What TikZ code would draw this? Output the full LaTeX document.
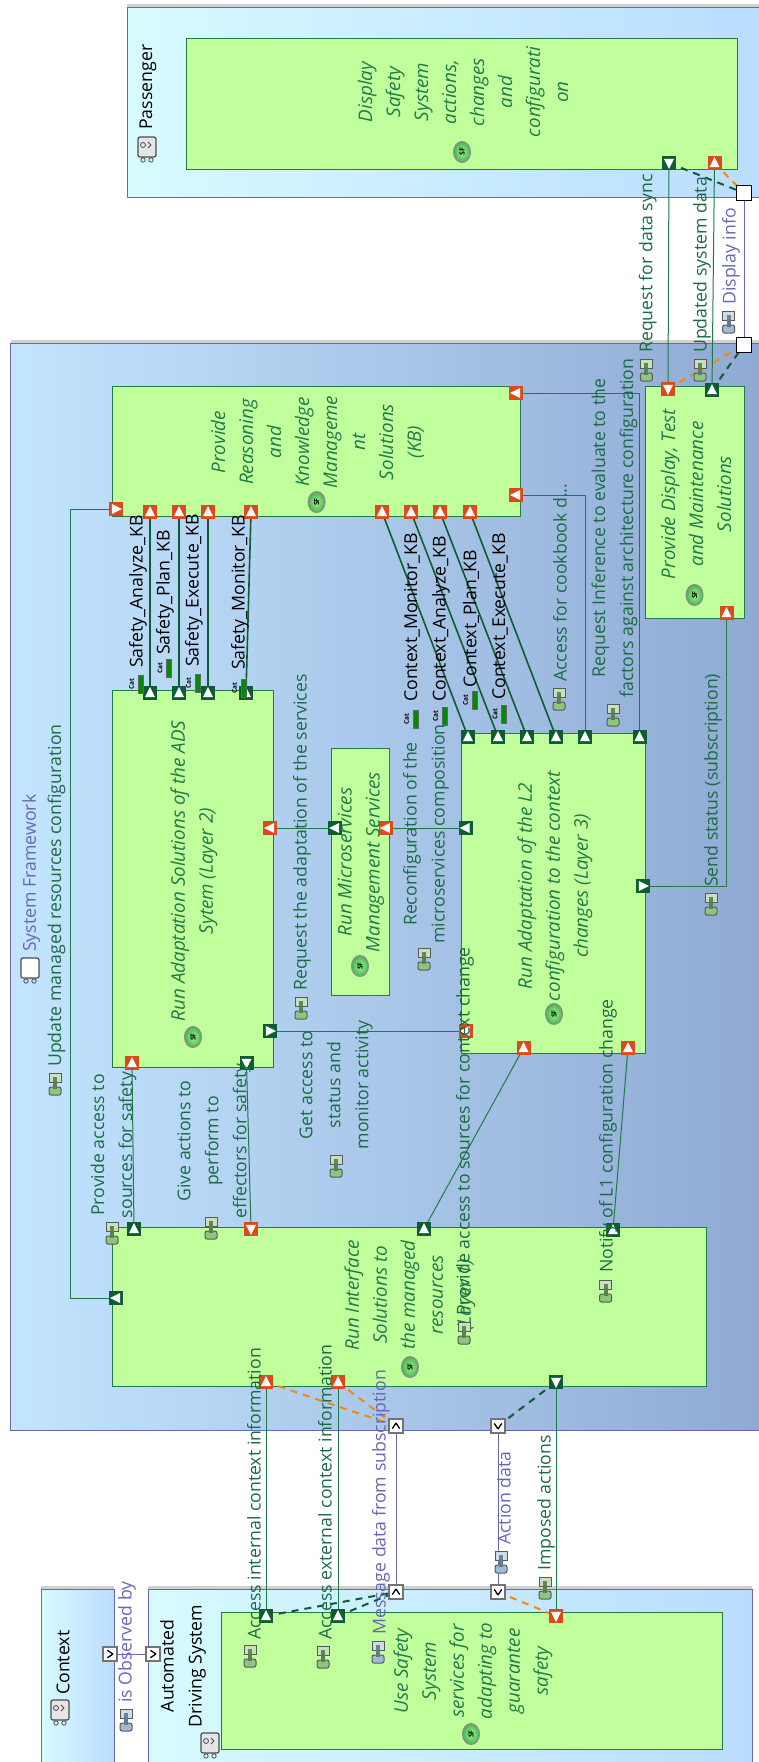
\documentclass[tikz,border=0pt]{standalone}
\usepackage{fontspec}
\setmainfont{Open Sans}
\usetikzlibrary{shapes, arrows.meta, positioning, calc}
\pgfdeclarelayer{background}
\pgfdeclarelayer{middle}
\pgfsetlayers{background,middle,main}
\definecolor{fnfill}{HTML}{C1FF9C}
\definecolor{fnline}{HTML}{1F7A45}
\definecolor{exgreen}{HTML}{1B6B45}
\definecolor{portred}{HTML}{DB4A1A}
\definecolor{portgreen}{HTML}{0E5C33}
\definecolor{boxline}{HTML}{6767B5}
\definecolor{dashorange}{HTML}{EE8A10}
\definecolor{skyend}{HTML}{BADDFF}
\definecolor{paleleft}{HTML}{D7FBFF}
\definecolor{sysleft}{HTML}{C3E5FF}
\definecolor{sysright}{HTML}{8FA9D3}
\definecolor{iconbody}{HTML}{8FC47F}
\definecolor{iconblue}{HTML}{9DBBD6}
\tikzset{actorbox/.style={draw=boxline, line width=1pt, left color=paleleft, right color=skyend}}
\tikzset{sysbox/.style={draw=boxline, line width=1pt, left color=sysleft, right color=sysright}}
\tikzset{shadowband/.style={fill=black!18, draw=none}}
\tikzset{fnbox/.style={draw=fnline, fill=fnfill, line width=1pt}}
\tikzset{portbase/.style={minimum size=14pt, inner sep=0pt, outer sep=0pt}}
\tikzset{redport/.style={portbase, fill=portred, path picture={\fill[white] ($(path picture bounding box.center)+(90+#1:6pt)$) -- ($(path picture bounding box.center)+(220+#1:6.5pt)$) -- ($(path picture bounding box.center)+(320+#1:6.5pt)$) -- cycle;}}}
\tikzset{greenport/.style={portbase, fill=portgreen, path picture={\fill[white] ($(path picture bounding box.center)+(90+#1:6pt)$) -- ($(path picture bounding box.center)+(220+#1:6.5pt)$) -- ($(path picture bounding box.center)+(320+#1:6.5pt)$) -- cycle;}}}
\tikzset{pinbox/.style={portbase, draw=black!55, fill=white, line width=1.6pt, path picture={\draw[black, line width=1.3pt] ($(path picture bounding box.center)+(90+#1:3pt)$) -- ($(path picture bounding box.center)+(215+#1:4.5pt)$) ($(path picture bounding box.center)+(90+#1:3pt)$) -- ($(path picture bounding box.center)+(325+#1:4.5pt)$);}}}
\tikzset{blankpin/.style={portbase, minimum size=15pt, draw=black, fill=white, line width=0.8pt}}
\tikzset{exline/.style={draw=fnline, line width=1pt}}
\tikzset{catline/.style={draw=portgreen, line width=1.6pt}}
\tikzset{blueline/.style={draw=boxline, line width=0.9pt}}
\tikzset{orangedash/.style={draw=dashorange, line width=2pt, dash pattern=on 7pt off 6pt}}
\tikzset{greendash/.style={draw=portgreen, line width=2pt, dash pattern=on 7pt off 6pt}}
\tikzset{exlabel/.style={rotate=90, anchor=west, inner sep=0pt, text=exgreen, font=\fontsize{17.7}{28}\selectfont}}
\tikzset{exblock/.style={exlabel, anchor=center, align=center}}
\tikzset{bluelabel/.style={exlabel, text=boxline}}
\tikzset{catlabel/.style={exlabel, text=black}}
\tikzset{blacklabel/.style={exblock, text=black}}
\tikzset{fntext/.style={rotate=90, inner sep=0pt, align=center, text=fnline, font=\fontsize{18.8}{28}\selectfont\itshape}}
\tikzset{sficon/.style={ellipse, draw=black!45, line width=1pt, inner color=green!45!white, outer color=green!35!gray, minimum width=21pt, minimum height=17pt, inner sep=0pt, rotate=90, font=\fontsize{7}{7}\selectfont\bfseries}}
\tikzset{exicon/.pic={
\draw[black!65, fill=#1!50!white, line width=1pt] (-6pt,11pt) rectangle (6pt,2pt);
\fill[#1!70!black] (-2pt,7pt) rectangle (2pt,-6pt);
\draw[black!65, fill=#1, line width=1pt, rounded corners=2pt] (-6pt,-11pt) rectangle (6pt,-3pt);
\fill[#1!65!black] (-2pt,3pt) rectangle (2pt,-5pt);
}}
\tikzset{caticon/.pic={
\node[rotate=90, inner sep=0pt, font=\fontsize{6.5}{7}\selectfont\bfseries] at (-4.5pt,0pt) {Cat};
\draw[black!60, fill=green!55!black, line width=0.5pt] (2pt,-9pt) rectangle (7pt,9pt);
}}
\tikzset{actoricon/.pic={
\draw[black!70, fill=black!10, line width=1.2pt, rounded corners=2pt] (-9pt,-10pt) rectangle (9pt,10pt);
\draw[black!70, line width=0.8pt] (-4pt,-13pt) circle (2.2pt) (4pt,-13pt) circle (2.2pt) (-4pt,2pt) circle (2.5pt) (4pt,2pt) -- (1pt,-1pt) (4pt,2pt) -- (1pt,5pt);
}}
\tikzset{sysicon/.pic={
\draw[black!70, fill=white, line width=1.2pt, rounded corners=2pt] (-9pt,-10pt) rectangle (9pt,10pt);
\draw[black!70, line width=0.8pt] (-4pt,-13pt) circle (2.2pt) (4pt,-13pt) circle (2.2pt);
}}
\begin{document}
\begin{tikzpicture}[x=1pt, y=-1pt]
\useasboundingbox (0,0) rectangle (758,1762);

\begin{pgfonlayer}{background}
\fill[shadowband] (127,4) rectangle (764,7);
\fill[shadowband] (10.6,340) rectangle (764,343);
\fill[shadowband] (41,1586) rectangle (114,1589);
\fill[shadowband] (148,1586) rectangle (752,1589);
\draw[actorbox] (127,7) rectangle (764,197);
\draw[sysbox] (10.6,343) rectangle (764,1430);
\draw[actorbox] (41,1589) rectangle (114,1770);
\draw[actorbox] (148,1589) rectangle (752,1770);
\pic at (210,1743) {actoricon};
\draw[fnbox] (186,38) rectangle (737,169);
\draw[fnbox] (645.7,386) rectangle (744,618);
\draw[fnbox] (112,386) rectangle (520.5,516.7);
\draw[fnbox] (112,690) rectangle (273,1067);
\draw[fnbox] (331,748) rectangle (389,995);
\draw[fnbox] (461.6,733.7) rectangle (645.7,1053);
\draw[fnbox] (112,1227) rectangle (706.6,1386);
\draw[fnbox] (221,1612) rectangle (722.6,1749);
\end{pgfonlayer}

% display ports
\node[greenport=180] (dispsync) at (669,163) {};
\node[redport=0] (dispdata) at (714.5,163) {};
\node[blankpin] (paxpin) at (744,193) {};
\node[blankpin] (syspin) at (744,345) {};
\node[redport=180] (maintsync) at (668,389) {};
\node[greenport=0] (maintdata) at (712,390) {};
\node[redport=0] (maintstatus) at (726.5,613) {};

% knowledge base ports
\node[redport=90] (kbinfer) at (516,393) {};
\node[redport=90] (kbcook) at (516,495) {};
\node[redport=270] (kbres) at (116,509) {};
\node[redport=0] (kbsa) at (150,512) {};
\node[redport=0] (kbsp) at (179,512) {};
\node[redport=0] (kbse) at (208,512) {};
\node[redport=0] (kbsm) at (251,512) {};
\node[redport=0] (kbcm) at (382,512) {};
\node[redport=0] (kbca) at (411,512) {};
\node[redport=0] (kbcp) at (440,512) {};
\node[redport=0] (kbce) at (470,512) {};

% layer 2 ports
\node[greenport=0] (ltsa) at (150,693) {};
\node[greenport=0] (ltsp) at (179,693) {};
\node[greenport=0] (ltse) at (208,693) {};
\node[greenport=0] (ltsm) at (246,693) {};
\node[redport=90] (ltreq) at (270,828) {};
\node[greenport=270] (ltget) at (270,1031) {};
\node[redport=0] (ltsrc) at (132,1063) {};
\node[greenport=180] (ltact) at (246.5,1063) {};

% microservices ports
\node[greenport=90] (msreq) at (335,828) {};
\node[redport=90] (msconf) at (385.7,828) {};

% layer 3 ports
\node[greenport=0] (lthcm) at (468,737) {};
\node[greenport=0] (lthca) at (498,737) {};
\node[greenport=0] (lthcp) at (527,737) {};
\node[greenport=0] (lthce) at (556,737) {};
\node[greenport=0] (lthcook) at (585,737) {};
\node[greenport=0] (lthinfer) at (639.5,737) {};
\node[greenport=90] (lthconf) at (465.5,828) {};
\node[redport=90] (lthget) at (465.5,1031) {};
\node[greenport=270] (lthstatus) at (643,886) {};
\node[redport=0] (lthsrc) at (523.5,1048) {};
\node[redport=0] (lthnot) at (628,1048) {};

% interface ports
\node[greenport=0] (ifsrc) at (134,1229) {};
\node[redport=180] (ifact) at (251,1229) {};
\node[greenport=0] (ifctx) at (424,1229) {};
\node[greenport=0] (ifnot) at (613,1230) {};
\node[greenport=90] (ifres) at (116,1298) {};
\node[redport=0] (ifint) at (266,1382) {};
\node[redport=0] (ifext) at (338,1382) {};
\node[greenport=180] (ifimp) at (556,1382) {};
\node[pinbox=0] (sysmsg) at (396,1426) {};
\node[pinbox=180] (sysact) at (498,1426) {};

% ads ports
\node[pinbox=0] (adsmsg) at (396,1592) {};
\node[pinbox=180] (adsact) at (498,1592) {};
\node[greenport=0] (useint) at (266,1616) {};
\node[greenport=0] (useext) at (338,1616) {};
\node[redport=180] (useimp) at (556,1616) {};
\node[pinbox=270] (ctxpin) at (110,1654) {};
\node[pinbox=270] (adspin) at (153,1654) {};

% function texts
\node[fntext] (disptext) at (463,92) {Display\\Safety\\System\\actions,\\changes\\and\\configurati\\on};
\node[sficon] (dispsf) at (462,152) {SF};
\node[fntext] (mainttext) at (696,494) {Provide Display, Test\\and Maintenance\\Solutions};
\node[sficon] (maintsf) at (694.5,595) {SF};
\node[fntext] (kbtext) at (317.5,442) {Provide\\Reasoning\\and\\Knowledge\\Manageme\\nt\\Solutions\\(KB)};
\node[sficon] (kbsf) at (316.6,502) {SF};
\node[fntext] (lttext) at (194,871) {Run Adaptation Solutions of the ADS\\Sytem (Layer 2)};
\node[sficon] (ltsf) at (193,1037) {SF};
\node[fntext] (mstext) at (361,862) {Run Microservices\\Management Services};
\node[sficon] (mssf) at (360,966) {SF};
\node[fntext] (lthtext) at (555,886) {Run Adaptation of the L2\\configuration to the context\\changes (Layer 3)};
\node[sficon] (lthsf) at (554,1014) {SF};
\node[fntext] (iftext) at (410,1295) {Run Interface\\Solutions to\\the managed\\resources\\(Layer 1)};
\node[sficon] (ifsf) at (410,1367) {SF};
\node[fntext] (usetext) at (473,1671) {Use Safety\\System\\services for\\adapting to\\guarantee\\safety};
\node[sficon] (usesf) at (471,1734) {SF};

% container titles
\pic at (147,147) {actoricon};
\node[catlabel] (paxtitle) at (148,130) {Passenger};
\pic at (30,968) {sysicon};
\node[bluelabel] (systitle) at (31.4,952) {System Framework};
\pic at (60,1710) {actoricon};
\node[catlabel] (ctxtitle) at (63,1695) {Context};
\node[blacklabel] (adstitle) at (183,1666) {Automated\\Driving System};

% exchange labels
\pic at (55,1084) {exicon=iconbody};
\node[exlabel] (updlabel) at (56.5,1067) {Update managed resources configuration};
\pic at (112,1233) {exicon=iconbody};
\node[exblock] (srclabel) at (113.5,1145) {Provide access to\\sources for safety};
\pic at (211,1228) {exicon=iconbody};
\node[exblock] (actlabel) at (214,1141) {Give actions to\\perform to\\effectors for safety};
\pic at (336,1166) {exicon=iconbody};
\node[exblock] (getlabel) at (336,1085) {Get access to\\status and\\monitor activity};
\pic at (301,1008) {exicon=iconbody};
\node[exlabel] (reqlabel) at (302,991) {Request the adaptation of the services};
\pic at (424,959) {exicon=iconbody};
\node[exblock] (conflabel) at (426,834) {Reconfiguration of the\\microservices composition};
\pic at (464,1333) {exicon=iconbody};
\node[exlabel] (ctxlabel) at (465,1316) {Provide access to sources for context change};
\pic at (605.6,1291) {exicon=iconbody};
\node[exlabel] (notlabel) at (608,1273) {Notify of L1 configuration change};
\pic at (711,904) {exicon=iconbody};
\node[exlabel] (statlabel) at (713,887) {Send status (subscription)};
\pic at (559,699) {exicon=iconbody};
\node[exlabel] (cooklabel) at (560,682) {Access for cookbook d...};
\pic at (613,715) {exicon=iconbody};
\node[exblock] (inflabel) at (614.5,528) {Request Inference to evaluate to the\\factors against architecture configuration};
\pic at (646.4,370) {exicon=iconbody};
\node[exlabel] (synclabel) at (647.6,353) {Request for data sync};
\pic at (700,370) {exicon=iconbody};
\node[exlabel] (datalabel) at (702,353) {Updated system data};
\pic at (728.6,322) {exicon=iconblue};
\node[bluelabel] (infolabel) at (731,305) {Display info};
\pic at (250,1656) {exicon=iconbody};
\node[exlabel] (intlabel) at (254,1640) {Access internal context information};
\pic at (323,1657) {exicon=iconbody};
\node[exlabel] (extlabel) at (325,1640) {Access external context information};
\pic at (378,1652) {exicon=iconblue};
\node[bluelabel] (msglabel) at (381,1635) {Message data from subscription};
\pic at (501,1562) {exicon=iconblue};
\node[bluelabel] (adatalabel) at (504,1545) {Action data};
\pic at (545,1588) {exicon=iconbody};
\node[exlabel] (implabel) at (546,1571) {Imposed actions};
\pic at (126,1720) {exicon=iconblue};
\node[bluelabel] (obslabel) at (127,1703) {is Observed by};

% category labels
\pic at (136,684) {caticon};
\node[catlabel] (salabel) at (138,668) {Safety\_Analyze\_KB};
\pic at (164.5,668) {caticon};
\node[catlabel] (splabel) at (165,655) {Safety\_Plan\_KB};
\pic at (193,683) {caticon};
\node[catlabel] (selabel) at (194,667) {Safety\_Execute\_KB};
\pic at (239,688) {caticon};
\node[catlabel] (smlabel) at (240,670) {Safety\_Monitor\_KB};
\pic at (411,719) {caticon};
\node[catlabel] (cmlabel) at (412,702) {Context\_Monitor\_KB};
\pic at (440,716) {caticon};
\node[catlabel] (calabel) at (441,702) {Context\_Analyze\_KB};
\pic at (470,700) {caticon};
\node[catlabel] (cplabel) at (471,688) {Context\_Plan\_KB};
\pic at (499.5,714) {caticon};
\node[catlabel] (celabel) at (500,700) {Context\_Execute\_KB};

\begin{pgfonlayer}{middle}
\draw[exline] (maintsync.center) -- (dispsync.center);
\draw[exline] (maintdata.center) -- (dispdata.center);
\draw[blueline] (syspin.center) -- (paxpin.center);
\draw[orangedash] (dispdata.center) -- (paxpin.center);
\draw[orangedash] (maintsync.center) -- (syspin.center);
\draw[greendash] (dispsync.center) -- (paxpin.center);
\draw[greendash] (maintdata.center) -- (syspin.center);
\draw[catline] (kbsa.center) -- (ltsa.center);
\draw[catline] (kbsp.center) -- (ltsp.center);
\draw[catline] (kbse.center) -- (ltse.center);
\draw[catline] (kbsm.center) -- (ltsm.center);
\draw[catline] (kbcm.center) -- (lthcm.center);
\draw[catline] (kbca.center) -- (lthca.center);
\draw[catline] (kbcp.center) -- (lthcp.center);
\draw[catline] (kbce.center) -- (lthce.center);
\draw[exline] (kbcook.center) -| (lthcook.center);
\draw[exline] (kbinfer.center) -| (lthinfer.center);
\draw[exline] (maintstatus.center) |- (lthstatus.center);
\coordinate (updturn) at (70,900);
\draw[exline] (kbres.center) -- (updturn |- kbres) -- (updturn |- ifres) -- (ifres.center);
\draw[exline] (ltreq.center) -- (msreq.center);
\draw[exline] (msconf.center) -- (lthconf.center);
\draw[exline] (ltget.center) -- (lthget.center);
\draw[exline] (ltsrc.center) -- (ifsrc.center);
\draw[exline] (ltact.center) -- (ifact.center);
\draw[exline] (lthsrc.center) -- (ifctx.center);
\draw[exline] (lthnot.center) -- (ifnot.center);
\draw[exline] (ifint.center) -- (useint.center);
\draw[exline] (ifext.center) -- (useext.center);
\draw[exline] (ifimp.center) -- (useimp.center);
\draw[blueline] (sysmsg.center) -- (adsmsg.center);
\draw[blueline] (sysact.center) -- (adsact.center);
\draw[blueline] (ctxpin.center) -- (adspin.center);
\draw[orangedash] (ifint.center) -- (sysmsg.center);
\draw[orangedash] (ifext.center) -- (sysmsg.center);
\draw[greendash] (sysact.center) -- (ifimp.center);
\draw[greendash] (useint.center) -- (adsmsg.center);
\draw[greendash] (useext.center) -- (adsmsg.center);
\draw[orangedash] (adsact.center) -- (useimp.center);
\end{pgfonlayer}
\end{tikzpicture}
\end{document}
